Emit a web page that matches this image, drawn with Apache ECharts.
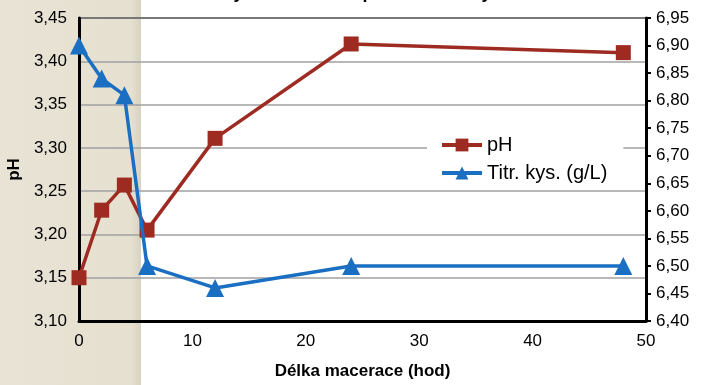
<!DOCTYPE html>
<html>
<head>
<meta charset="utf-8">
<script src="https://cdn.jsdelivr.net/npm/echarts@6/dist/echarts.min.js"></script>
<style>
  html, body { margin: 0; padding: 0; background: #fff; }
  #chart { width: 704px; height: 385px; }
</style>
</head>
<body>
<div id="chart"></div>
<script>
// délka macerace (hod)
var hours = [0, 2, 4, 6, 12, 24, 48];
// pH (levá osa)
var phValues = [3.15, 3.228, 3.257, 3.205, 3.311, 3.42, 3.41];
// titrační kyselost g/L (pravá osa)
var titrValues = [6.90, 6.84, 6.81, 6.50, 6.46, 6.50, 6.50];

var font = "'Liberation Sans Narrow', 'Liberation Sans', Arial, sans-serif";

function pairs(xs, ys) {
  return xs.map(function (x, i) { return [x, ys[i]]; });
}
function comma(v) {
  return v.toFixed(2).replace(".", ",");
}

var myChart = echarts.init(document.getElementById("chart"));
myChart.setOption({
  animation: false,
  graphic: [
    {
      type: "rect",
      z: -10,
      shape: { x: 0, y: 0, width: 141, height: 385 },
      style: {
        fill: {
          type: "linear", x: 0, y: 0, x2: 1, y2: 0,
          colorStops: [
            { offset: 0, color: "#e8e3d5" },
            { offset: 0.93, color: "#e6e0d0" },
            { offset: 1, color: "#d8d2c2" }
          ]
        }
      }
    }
  ],
  title: {
    text: "Vliv délky macerace na pH a titrační kyselost",
    left: "center",
    top: -21,
    textStyle: { fontFamily: font, fontSize: 18, fontWeight: "bold", color: "#000" }
  },
  grid: {
    left: 79, right: 58, top: 18, bottom: 64,
    containLabel: false,
    outerBoundsMode: "none",
    show: true, borderColor: "#000", borderWidth: 2, backgroundColor: "transparent"
  },
  legend: {
    orient: "vertical",
    left: 427,
    top: 132,
    itemGap: 8,
    itemWidth: 40,
    itemHeight: 16,
    backgroundColor: "#fff",
    padding: [3, 16, 0, 13],
    lineStyle: { width: 4 },
    textStyle: { fontFamily: font, fontSize: 20, color: "#000" },
    data: ["pH", "Titr. kys. (g/L)"]
  },
  xAxis: {
    type: "value",
    min: 0, max: 50, interval: 10,
    axisLine: { lineStyle: { color: "#000", width: 3 } },
    axisTick: { show: false },
    splitLine: { show: false },
    axisLabel: { fontFamily: font, fontSize: 17, color: "#000", margin: 12 },
    name: "Délka macerace (hod)",
    nameLocation: "middle",
    nameGap: 42,
    nameTextStyle: { fontFamily: font, fontSize: 17, fontWeight: "bold", color: "#000" }
  },
  yAxis: [
    {
      type: "value",
      min: 3.10, max: 3.45, interval: 0.05,
      position: "left",
      axisLine: { show: true, lineStyle: { color: "#000", width: 3 } },
      axisTick: { show: false },
      splitLine: { show: true, lineStyle: { color: "#a0a0a0", width: 1.5 } },
      axisLabel: { fontFamily: font, fontSize: 17, color: "#000", margin: 12, formatter: comma },
      name: "pH",
      nameLocation: "middle",
      nameGap: 55,
      nameTextStyle: { fontFamily: font, fontSize: 17, fontWeight: "bold", color: "#000" }
    },
    {
      type: "value",
      min: 6.40, max: 6.95, interval: 0.05,
      position: "right",
      axisLine: { show: true, lineStyle: { color: "#000", width: 3 } },
      axisTick: { show: true, length: 5, lineStyle: { color: "#000", width: 2 } },
      splitLine: { show: false },
      axisLabel: { fontFamily: font, fontSize: 17, color: "#000", margin: 10, formatter: comma }
    }
  ],
  series: [
    {
      name: "pH",
      type: "line",
      yAxisIndex: 0,
      data: pairs(hours, phValues),
      symbol: "rect",
      symbolSize: 15,
      color: "#9e2b22",
      lineStyle: { width: 3.5, color: "#9e2b22" },
      itemStyle: { color: "#9e2b22" },
      z: 3
    },
    {
      name: "Titr. kys. (g/L)",
      type: "line",
      yAxisIndex: 1,
      data: pairs(hours, titrValues),
      symbol: "triangle",
      symbolSize: 18,
      color: "#1a6fc2",
      lineStyle: { width: 3.5, color: "#1a6fc2" },
      itemStyle: { color: "#1a6fc2" },
      z: 4
    }
  ]
});
window.onresize = myChart.resize;
</script>
</body>
</html>
